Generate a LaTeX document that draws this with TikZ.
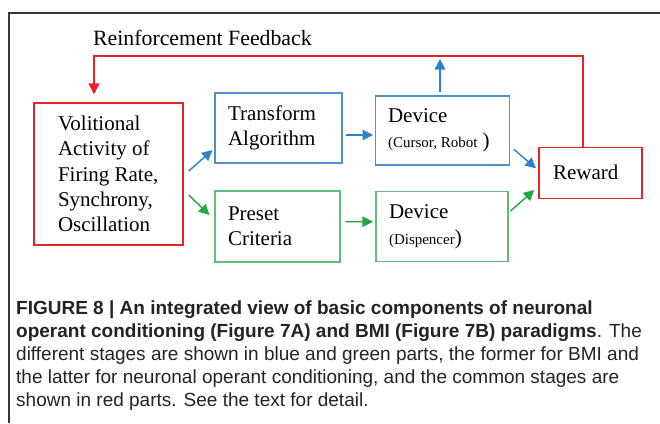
\documentclass[tikz,border=0pt]{standalone}
\usepackage{fontspec}
\setmainfont{Liberation Serif}
\newfontfamily\capfont{Liberation Sans}
\usetikzlibrary{arrows.meta}

\definecolor{fbred}{RGB}{230,35,40}
\definecolor{bmiblue}{RGB}{45,130,200}
\definecolor{bmiboxblue}{RGB}{80,145,205}
\definecolor{ocgreen}{RGB}{35,165,70}
\definecolor{ocboxgreen}{RGB}{95,190,120}
\definecolor{framegray}{RGB}{55,55,55}
\definecolor{captext}{RGB}{35,35,35}

\tikzset{
  stage/.style={draw, line width=1.1pt, align=flush left, inner ysep=0pt,
    font=\fontsize{21}{25.4}\selectfont},
  redstage/.style={stage, draw=fbred, line width=1.5pt},
  bluestage/.style={stage, draw=bmiboxblue},
  greenstage/.style={stage, draw=ocboxgreen},
  redarrow/.style={draw=fbred, line width=1.6pt, -{Triangle[length=11pt,width=11pt]}},
  bluearrow/.style={draw=bmiblue, line width=1.4pt, -{Triangle[length=10.5pt,width=10.5pt]}},
  greenarrow/.style={draw=ocgreen, line width=1.4pt, -{Triangle[length=10.5pt,width=10.5pt]}}
}
\newcommand{\devnote}[2]{{\fontsize{15}{18}\selectfont #1}#2}

\begin{document}
\begin{tikzpicture}[x=1pt, y=-1pt]
  \useasboundingbox (0,0) rectangle (660,423);
  % frame of the figure panel
  \draw[framegray, line width=1.1pt] (9,423) -- (9,13) -- (660,13);

  % stages
  \node[redstage, inner xsep=24pt, text width=101pt, minimum height=142pt] (vol) at (108.5,174)
    {Volitional\\Activity~of\\Firing~Rate,\\Synchrony,\\Oscillation};
  \node[bluestage, inner xsep=13pt, text width=101pt, minimum height=70pt] (trans) at (278.5,128)
    {Transform\\Algorithm};
  \node[bluestage, inner xsep=12.5pt, text width=108.5pt, minimum height=69pt] (devA) at (442.3,130.5)
    {Device\\\devnote{(Cursor, Robot}{ )}};
  \node[greenstage, inner xsep=13pt, text width=99pt, minimum height=71pt] (preset) at (277.5,226.5)
    {Preset\\Criteria};
  \node[greenstage, inner xsep=13pt, text width=106pt, minimum height=70pt] (devB) at (442,226.6)
    {Device\\\devnote{(Dispencer}{)}};
  \node[redstage, inner xsep=14pt, text width=75pt, minimum height=51pt] (reward) at (590.5,172.8)
    {Reward};

  % feedback loop
  \node[font=\fontsize{21.8}{25}\selectfont, anchor=west, inner sep=0pt] (fblabel) at (93,38)
    {Reinforcement Feedback};
  \coordinate (fbtop) at (0,56);
  \coordinate (devAout) at (440,59);
  \draw[redarrow] ([xshift=-7.5pt]reward.north) |- (fbtop -| vol.north)
    -| ([xshift=-14.5pt,yshift=8pt]vol.north);
  \draw[bluearrow] (devA.north -| devAout) ++(0,-3) -- (devAout);

  % BMI path
  \draw[bluearrow] ([xshift=5pt,yshift=3pt]vol.east) -- ([xshift=-2pt,yshift=-22pt]trans.west);
  \draw[bluearrow] ([xshift=3pt,yshift=-7pt]trans.east) -- ([xshift=-2pt,yshift=-4.5pt]devA.west);
  \draw[bluearrow] ([xshift=4.3pt,yshift=-18.8pt]devA.east) -- ([xshift=-2.3pt,yshift=4.5pt]reward.west);

  % operant conditioning path
  \draw[greenarrow] ([xshift=5pt,yshift=-21pt]vol.east) -- ([xshift=-5pt,yshift=11.5pt]preset.west);
  \draw[greenarrow] ([xshift=5pt,yshift=4.8pt]preset.east) -- ([xshift=-2.5pt,yshift=4.9pt]devB.west);
  \draw[greenarrow] ([xshift=2pt,yshift=15.6pt]devB.east) -- ([xshift=-4pt,yshift=-17.2pt]reward.west);

  % caption
  \node[anchor=north west, inner sep=0pt, align=left, text=captext,
    font=\capfont\fontsize{19}{23}\selectfont] (caption) at (16,298)
    {\strut\textbf{FIGURE 8 | An integrated view of basic components of neuronal}\\
     \textbf{operant conditioning (Figure 7A) and BMI (Figure 7B) paradigms}. The\\
     different stages are shown in blue and green parts, the former for BMI and\\
     the latter for neuronal operant conditioning, and the common stages are\\
     shown in red parts. See the text for detail.};
\end{tikzpicture}
\end{document}
